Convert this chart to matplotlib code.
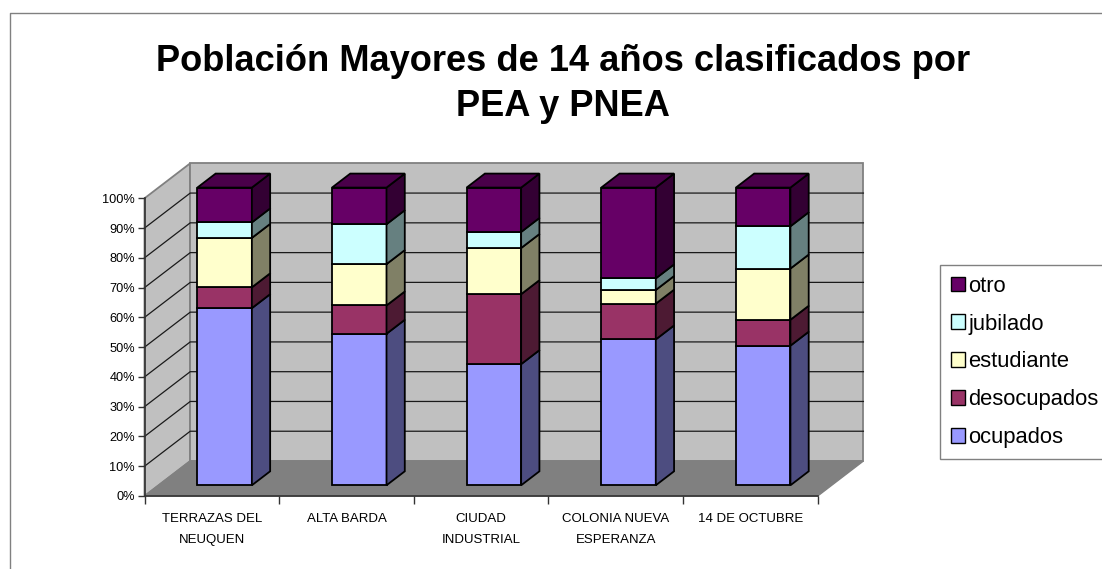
#!/bin/py
#
# 3D look stacked percent columns, drawn on plain axes with an oblique shift
#
import matplotlib
matplotlib.use('Agg')
import matplotlib.pyplot as plt
from matplotlib.patches import Patch, Polygon

plt.rcParams['font.family'] = ['Liberation Sans', 'DejaVu Sans']

barrios = ['TERRAZAS DEL\nNEUQUEN', 'ALTA BARDA', 'CIUDAD\nINDUSTRIAL',
           'COLONIA NUEVA\nESPERANZA', '14 DE OCTUBRE']
ocupados = [59.5, 50.9, 40.7, 49.0, 46.9]
desocupados = [7.0, 9.5, 23.5, 12.0, 8.7]
estudiante = [16.6, 13.9, 15.5, 4.6, 17.2]
jubilado = [5.2, 13.4, 5.4, 3.9, 14.2]
otro = [11.7, 12.3, 14.9, 30.5, 13.0]
series = [ocupados, desocupados, estudiante, jubilado, otro]
nombres = ['ocupados', 'desocupados', 'estudiante', 'jubilado', 'otro']
colores = ['#9999ff', '#993366', '#ffffcc', '#ccffff', '#660066']
laterales = ['#4d4d80', '#4d1a33', '#808066', '#668080', '#330033']
tapas = ['#4d4d80', '#4d1a33', '#808066', '#668080', '#4a004a']
yticks = list(range(0, 101, 10))

W, H = 1102, 569
fig = plt.figure(figsize=(W / 100, H / 100), dpi=100)
# front plane of the box, in pixels
x0, x1, ytop, ybot = 144.5, 817.7, 198.3, 496.0
ax = fig.add_axes([x0 / W, 1 - ybot / H, (x1 - x0) / W, (ybot - ytop) / H])
ax.set_xlim(0, 5)
ax.set_ylim(0, 100)
ax.patch.set_visible(False)

# oblique shift for depth 0..1
DX = 45.7 / 134.6
DY = 35.0 / 2.977
ancho = 0.405
d0, d1 = 0.306, 0.706
centro = 0.491


def p(x, y, d):
    return (x + d * DX, y + d * DY)


def cara(puntos, fc, ec='none', lw=0.0, z=1):
    ax.add_patch(Polygon(puntos, closed=True, fc=fc, ec=ec, lw=lw, zorder=z,
                         clip_on=False, joinstyle='miter'))


# walls and floor
gris = '#808080'
cara([p(0, 0, 0), p(0, 0, 1), p(0, 100, 1), p(0, 100, 0)], '#c0c0c0', gris, 1.3)
cara([p(0, 0, 1), p(5, 0, 1), p(5, 100, 1), p(0, 100, 1)], '#c0c0c0', gris, 1.3)
cara([p(0, 0, 0), p(5, 0, 0), p(5, 0, 1), p(0, 0, 1)], gris, gris, 1.0)

# grid lines on both walls
for v in yticks[1:-1]:
    a, b, c = p(0, v, 0), p(0, v, 1), p(5, v, 1)
    ax.plot([a[0], b[0], c[0]], [a[1], b[1], c[1]], color='#1a1a1a', lw=0.9,
            zorder=2, clip_on=False)

# columns, bottom segment first
for i in range(len(barrios)):
    l = i + centro - ancho / 2
    r = i + centro + ancho / 2
    base = 0.0
    for k in range(len(series)):
        top = base + series[k][i]
        z = 3 + k
        cara([p(l, base, d0), p(r, base, d0), p(r, top, d0), p(l, top, d0)],
             colores[k], 'black', 1.3, z)
        cara([p(r, base, d0), p(r, base, d1), p(r, top, d1), p(r, top, d0)],
             laterales[k], 'black', 1.3, z)
        base = top
    cara([p(l, base, d0), p(r, base, d0), p(r, base, d1), p(l, base, d1)],
         tapas[-1], 'black', 1.3, 3 + len(series))

# axes
for s in ['top', 'right']:
    ax.spines[s].set_visible(False)
for s in ['left', 'bottom']:
    ax.spines[s].set_color('#333333')
    ax.spines[s].set_linewidth(1.2)
    ax.spines[s].set_zorder(2.5)
ax.set_yticks(yticks)
ax.set_yticklabels(['%d%%' % v for v in yticks], fontsize=9.2, color='black')
ax.tick_params(axis='y', length=5, width=1.0, color='#333333', pad=2)
ax.set_xticks(range(6))
ax.set_xticklabels([])
ax.tick_params(axis='x', which='major', length=6, width=1.0, color='#333333')
ax.set_xticks([i + 0.5 for i in range(5)], minor=True)
ax.set_xticklabels(barrios, minor=True, fontsize=9.5, linespacing=2.07, va='top')
ax.tick_params(axis='x', which='minor', length=0, pad=12)

# title
fig.text(563 / W, 1 - 84 / H,
         'Población Mayores de 14 años clasificados por\nPEA y PNEA',
         ha='center', va='center', fontsize=26.1, fontweight='bold',
         linespacing=1.38)

# legend
handles = [Patch(fc=colores[k], ec='black', lw=1.0, label=nombres[k])
           for k in range(4, -1, -1)]
fig.legend(handles=handles, loc='upper left',
           bbox_to_anchor=(940 / W, 1 - 264.7 / H), bbox_transform=fig.transFigure,
           fontsize=15.8, frameon=True, fancybox=False, framealpha=1,
           edgecolor=gris, borderaxespad=0, handlelength=0.66, handleheight=0.66,
           handletextpad=0.14, labelspacing=0.77, borderpad=0.5)

# chart area border
fig.add_artist(plt.Line2D([10 / W, 10 / W, 1], [0, 1 - 13 / H, 1 - 13 / H],
                          color=gris, lw=1.0))

plt.savefig('out.png', dpi=100)
plt.close()
